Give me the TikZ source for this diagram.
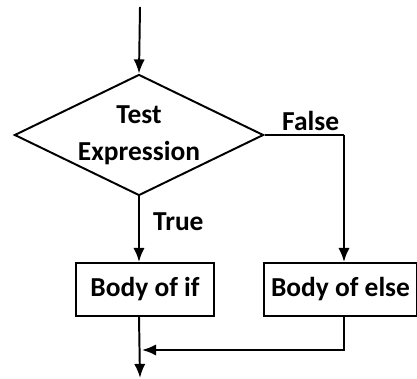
\documentclass[tikz,border=0pt]{standalone}
\usepackage{fontspec}
\setmainfont{Carlito}
\usetikzlibrary{shapes.geometric,arrows.meta}

\tikzset{
  flow/.style={line width=1.4pt},
  arr/.style={flow,-{Latex[length=10pt,width=8pt]}},
  decision/.style={diamond,draw,flow,inner sep=0pt,aspect=2.06,
    minimum width=6.225cm,minimum height=3.025cm,align=center},
  body/.style={rectangle,draw,flow,minimum height=1.325cm},
  lbl/.style={font=\fontsize{19.5}{26}\selectfont\bfseries}
}

\begin{document}
\begin{tikzpicture}[x=0.025cm,y=-0.025cm,every node/.append style={lbl}]
\useasboundingbox (0,0) rectangle (417,379);

\coordinate (start) at (140,7);
\node[decision] (test) at (139,135) {Test\\Expression};
\node[body,minimum width=3.45cm] (ifbody) at (145,289.5) {Body of if};
\node[body,minimum width=3.8cm] (elsebody) at (340.5,289.5) {Body of else};
\coordinate (fcorner) at (344,135);
\coordinate (merge) at (142,350);
\coordinate (stop) at (140,378);

% flow
\draw[arr] (start) -- (test.north);
\draw[arr] (test.south) -- node[pos=0.38,right,xshift=6pt] {True} (test.south |- ifbody.north);
\draw[flow] (test.east) -- node[pos=0.58,above,yshift=-1pt] {False} (fcorner);
\draw[arr] (fcorner) -- (fcorner |- elsebody.north);
\draw[arr] (test.south |- ifbody.south) -- (stop);
\draw[arr] (fcorner |- elsebody.south) |- (merge);
\end{tikzpicture}
\end{document}
